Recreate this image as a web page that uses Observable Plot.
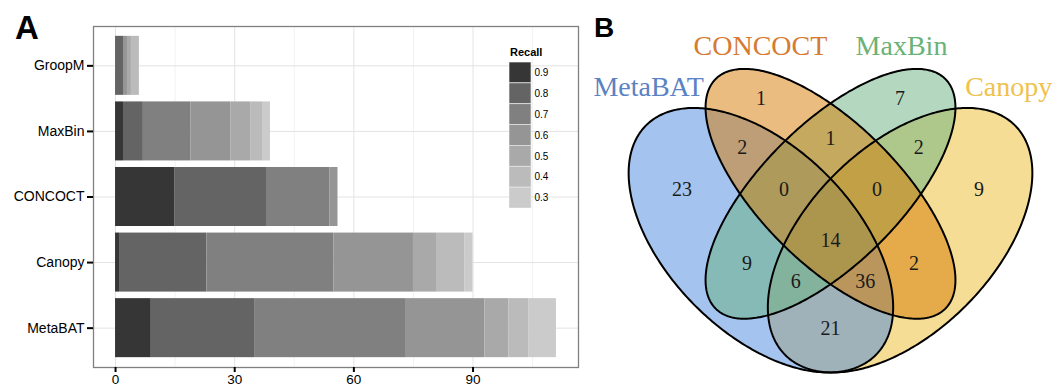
<!DOCTYPE html>
<html><head><meta charset="utf-8">
<script src="https://cdn.jsdelivr.net/npm/d3@7"></script>
<script src="https://cdn.jsdelivr.net/npm/@observablehq/plot@0.6"></script>
<style>
body{margin:0;background:#fff;}
#root{position:relative;width:1053px;height:387px;overflow:hidden;font-family:"Liberation Sans",Arial,sans-serif;background:#fff;}
#root > *{position:absolute;}
.tag{font-weight:bold;line-height:1;color:#000;white-space:nowrap;}
</style></head><body><div id="root"></div>
<script>
// ---------- Panel A data ----------
const tools = ["GroopM", "MaxBin", "CONCOCT", "Canopy", "MetaBAT"];
const recallLevels = ["0.9", "0.8", "0.7", "0.6", "0.5", "0.4", "0.3"];
const groopmCounts  = [0, 2, 0, 1, 1, 2, 0];
const maxbinCounts  = [2, 5, 12, 10, 5, 3, 2];
const concoctCounts = [15, 23, 16, 2, 0, 0, 0];
const canopyCounts  = [1, 22, 32, 20, 6, 7, 2];
const metabatCounts = [9, 26, 38, 20, 6, 5, 7];
const xTicks = [0, 30, 60, 90];
const xMinorTicks = [15, 45, 75, 105];

// ---------- Panel B data ----------
const vennSets = ["MetaBAT", "CONCOCT", "MaxBin", "Canopy"];
const vennRegions = ["MetaBAT", "CONCOCT", "MaxBin", "Canopy",
  "MetaBAT&CONCOCT", "CONCOCT&MaxBin", "MaxBin&Canopy",
  "MetaBAT&CONCOCT&MaxBin", "CONCOCT&MaxBin&Canopy", "all",
  "MetaBAT&MaxBin", "CONCOCT&Canopy", "MetaBAT&MaxBin&Canopy", "MetaBAT&CONCOCT&Canopy", "MetaBAT&Canopy"];
const vennCounts = [23, 1, 7, 9, 2, 1, 2, 0, 0, 14, 9, 2, 6, 36, 21];

// ---------- styles / layout (not data) ----------
const greys = ["#363636", "#646464", "#808080", "#959595", "#a9a9a9", "#bbbbbb", "#cbcbcb"];
const countsByTool = {GroopM: groopmCounts, MaxBin: maxbinCounts, CONCOCT: concoctCounts, Canopy: canopyCounts, MetaBAT: metabatCounts};
const vennFill = {MetaBAT: "#4a88e0", CONCOCT: "#d57900", MaxBin: "#67b17f", Canopy: "#ebbb2b"};
const vennText = {MetaBAT: "#5b82c4", CONCOCT: "#d67b34", MaxBin: "#6ab276", Canopy: "#efc24c"};
const fillOrder = ["Canopy", "MetaBAT", "MaxBin", "CONCOCT"];
// quad Venn layout (VennDiagram-style unit square): cx, cy, a, b, rotation
const ellipseLayout = {
  MetaBAT: [0.35, 0.47, 0.35, 0.20, 135],
  CONCOCT: [0.50, 0.57, 0.35, 0.15, 135],
  MaxBin:  [0.50, 0.57, 0.35, 0.15, 45],
  Canopy:  [0.65, 0.47, 0.35, 0.20, 45]
};
const regionLayout = {
  "MetaBAT": [0.18, 0.58], "CONCOCT": [0.35, 0.775], "MaxBin": [0.65, 0.775], "Canopy": [0.82, 0.58],
  "MetaBAT&CONCOCT": [0.31, 0.67], "CONCOCT&MaxBin": [0.5, 0.69], "MaxBin&Canopy": [0.69, 0.67],
  "MetaBAT&CONCOCT&MaxBin": [0.40, 0.58], "CONCOCT&MaxBin&Canopy": [0.60, 0.58], "all": [0.5, 0.47],
  "MetaBAT&MaxBin": [0.32, 0.42], "CONCOCT&Canopy": [0.68, 0.42],
  "MetaBAT&MaxBin&Canopy": [0.425, 0.38], "MetaBAT&CONCOCT&Canopy": [0.575, 0.38], "MetaBAT&Canopy": [0.5, 0.28]
};
const setLabelLayout = {MetaBAT: [0.108, 0.800], CONCOCT: [0.349, 0.888], MaxBin: [0.653, 0.888], Canopy: [0.884, 0.801]};

const root = document.getElementById("root");

// ---------- Panel A ----------
const rows = [];
for (const t of tools) countsByTool[t].forEach((c, i) => { if (c > 0) rows.push({tool: t, recall: recallLevels[i], count: c}); });

const colorScale = {type: "ordinal", domain: recallLevels, range: greys};

const chartA = Plot.plot({
  width: 580, height: 387,
  marginLeft: 93, marginRight: 2, marginTop: 26, marginBottom: 20,
  style: {fontFamily: "'Liberation Sans', Arial, sans-serif", fontSize: "14px", color: "#000", background: "transparent"},
  x: {domain: [-5.55, 116.55]},
  y: {domain: tools, paddingInner: 0.1, paddingOuter: 0.15, round: false, label: null},
  color: colorScale,
  marks: [
    Plot.gridX(xMinorTicks, {stroke: "#f2f2f2", strokeOpacity: 1}),
    Plot.gridX(xTicks.concat([120]), {stroke: "#e3e3e3", strokeOpacity: 1}),
    Plot.gridY({stroke: "#e3e3e3", strokeOpacity: 1}),
    Plot.barX(rows, Plot.stackX({y: "tool", x: "count", fill: "recall"})),
    Plot.frame({stroke: "#808080", strokeWidth: 1.3}),
    Plot.axisX(xTicks, {tickSize: 5, tickPadding: 2, fontSize: 13.5, stroke: "#000", strokeWidth: 2, label: null}),
    Plot.axisY({tickSize: 6, tickPadding: 3, fontSize: 14, stroke: "#000", strokeWidth: 2, label: null})
  ]
});
chartA.style.left = "0px"; chartA.style.top = "0px";
root.appendChild(chartA);

// legend keys (drawn by Plot)
const legendA = Plot.plot({
  width: 50, height: 146, marginLeft: 0, marginRight: 28, marginTop: 0, marginBottom: 0,
  style: {fontFamily: "'Liberation Sans', Arial, sans-serif", fontSize: "10px", color: "#000", background: "transparent"},
  y: {domain: recallLevels, padding: 0, round: false, label: null, axis: "right", tickSize: 0, tickPadding: 3},
  color: colorScale,
  marks: [Plot.cell(recallLevels, {y: d => d, fill: d => d, stroke: "#e6e6e6", strokeWidth: 0.7})]
});
legendA.style.left = "509px"; legendA.style.top = "62px";
root.appendChild(legendA);

const legTitle = document.createElement("div");
legTitle.className = "tag";
legTitle.style.cssText = "left:510px;top:47px;font-size:11px;line-height:11px;";
legTitle.textContent = "Recall";
root.appendChild(legTitle);

const tagA = document.createElement("div");
tagA.className = "tag";
tagA.style.cssText = "left:15px;top:11px;font-size:33px;line-height:33px;";
tagA.textContent = "A";
root.appendChild(tagA);

// ---------- Panel B ----------
function ellipsePoints(set) {
  const [cx, cy, a, b, rot] = ellipseLayout[set];
  const r = rot * Math.PI / 180;
  return d3.range(0, 360, 1).map(deg => {
    const t = deg * Math.PI / 180;
    return {set,
      x: cx + a * Math.cos(t) * Math.cos(r) - b * Math.sin(t) * Math.sin(r),
      y: cy + a * Math.cos(t) * Math.sin(r) + b * Math.sin(t) * Math.cos(r)};
  });
}
const ellipseBySet = Object.fromEntries(vennSets.map(s => [s, ellipsePoints(s)]));
const regionRows = vennRegions.map((r, i) => ({region: r, count: vennCounts[i]}));

const chartB = Plot.plot({
  width: 473, height: 387, margin: 0,
  style: {fontFamily: "'Liberation Serif', 'Times New Roman', serif", color: "#000", background: "transparent"},
  x: {domain: [0, 1], range: [18, 482], axis: null},
  y: {domain: [0, 1], range: [457.8, -6.2], axis: null},
  marks: [
    ...fillOrder.map(s => Plot.line(ellipseBySet[s], {x: "x", y: "y", fill: vennFill[s], fillOpacity: 0.5, stroke: "none", curve: "linear-closed"})),
    Plot.line(vennSets.flatMap(s => ellipseBySet[s]), {x: "x", y: "y", z: "set", stroke: "#000", strokeWidth: 2, fill: "none", curve: "linear-closed"}),
    Plot.text(regionRows, {x: d => regionLayout[d.region][0], y: d => regionLayout[d.region][1], text: d => String(d.count), fontSize: 20, fill: "#1a1a1a"}),
    Plot.text(vennSets, {x: s => setLabelLayout[s][0], y: s => setLabelLayout[s][1], text: s => s, fontSize: 28, fill: s => vennText[s]})
  ]
});
chartB.style.left = "580px"; chartB.style.top = "0px";
root.appendChild(chartB);

const tagB = document.createElement("div");
tagB.className = "tag";
tagB.style.cssText = "left:594px;top:14px;font-size:28px;line-height:28px;";
tagB.textContent = "B";
root.appendChild(tagB);
</script></body></html>
